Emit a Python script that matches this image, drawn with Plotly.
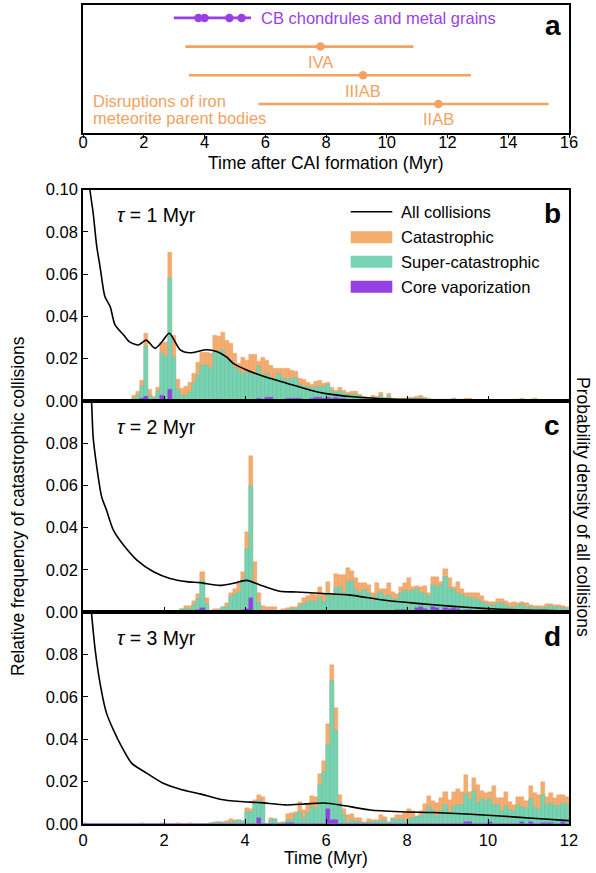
import plotly.graph_objects as go

# ---------------- data ----------------
N_BINS = 120
BIN_WIDTH = 0.1  # Myr

# Panel b (tau = 1 Myr)
B_CAT = [0,0,0,0,0,0,0,0,0,0,
         0,0,0.0024,0.0043,0.0095,0.032,0.0056,0.002,0.0066,0.0277,
         0.0275,0.070,0.031,0.010,0.0058,0.0068,0.0088,0.0132,0.018,0.023,
         0.023,0.0226,0.031,0.0306,0.0324,0.0284,0.027,0.0226,0.0178,0.0207,
         0.019,0.0218,0.0218,0.0186,0.0207,0.019,0.017,0.0155,0.0155,0.0155,
         0.0155,0.0144,0.0139,0.0106,0.010,0.0087,0.0076,0.0092,0.0095,0.0084,
         0.0088,0.0065,0.0049,0.0065,0.0049,0.004,0.0044,0.0043,0.0033,0.002,
         0.0013,0.0025,0.002,0.0038,0.0016,0.0035,0.0013,0.001,0.0013,0.001,
         0.0017,0.0016,0.002,0.0024,0.0016,0.0013,0.0008,0.0008,0.0006,0.0008,
         0.0006,0.0014,0.0008,0.0008,0.0013,0.0013,0.0005,0.0005,0.0004,0.0005,
         0.0004,0.0005,0.0004,0.0004,0.0005,0.0004,0.0005,0.0008,0.001,0.0005,
         0.0008,0.001,0.0005,0.0004,0.0005,0.0004,0.0005,0.0004,0.0003,0.0008]
B_SUP = [0,0,0,0,0,0,0,0,0,0,
         0,0,0.0013,0.0024,0.007,0.026,0.0028,0.001,0.0047,0.0226,
         0.021,0.0577,0.0205,0.0055,0.0024,0.0028,0.004,0.0084,0.012,0.0166,
         0.0166,0.0155,0.023,0.0234,0.024,0.020,0.019,0.016,0.0144,0.013,
         0.0134,0.0128,0.0128,0.0163,0.0118,0.0128,0.0112,0.0107,0.0128,0.0107,
         0.010,0.0107,0.0112,0.0076,0.0068,0.0068,0.006,0.0068,0.0063,0.0068,
         0.0076,0.0052,0.004,0.0044,0.0035,0.003,0.0033,0.003,0.0025,0.0015,
         0.001,0.0015,0.0012,0.0028,0.001,0.002,0.0008,0.0006,0.0008,0.0006,
         0.0012,0.001,0.0014,0.0014,0.001,0.0008,0.0005,0.0005,0.0005,0.0005,
         0.0005,0.001,0.0005,0.0005,0.0005,0.0005,0.0003,0.0003,0.0003,0.0003,
         0.0003,0.0003,0.0003,0.0003,0.0003,0.0003,0.0003,0.0005,0.0006,0.0003,
         0.0005,0.0009,0.0003,0.0003,0.0003,0.0003,0.0003,0.0003,0.0002,0.0005]
B_CORE = [0,0,0,0,0,0,0,0,0,0,
          0,0,0,0,0.001,0.002,0,0,0,0.0024,
          0,0.0055,0.0008,0,0,0,0,0,0,0,
          0,0,0,0.0005,0,0,0,0,0,0,
          0,0,0,0.001,0,0.0016,0.0016,0,0,0,
          0.0011,0.0011,0.001,0.0011,0,0,0.0014,0.0016,0.0016,0.0014,
          0.0016,0.0012,0.0016,0.001,0.001,0.0008,0.0008,0.0006,0.0008,0,
          0,0,0.0005,0,0.0005,0,0,0,0.0004,0,
          0,0,0,0,0,0,0,0,0,0,
          0,0,0,0,0,0,0,0,0,0,
          0,0,0,0,0,0,0,0,0,0,
          0,0,0,0,0,0,0,0,0,0]

# Panel c (tau = 2 Myr)
C_CAT = [0,0,0,0,0,0,0,0,0,0,
         0,0,0,0,0,0,0,0,0.0003,0.0003,
         0.0003,0,0.0003,0.0003,0.0016,0.0028,0.0028,0.0052,0.0085,0.019,
         0.0066,0.0006,0.0014,0.0014,0.0025,0.0044,0.0088,0.0107,0.0136,0.019,
         0.0379,0.074,0.0237,0.0088,0.0028,0.0024,0.0024,0.0024,0.0006,0.0014,
         0.0019,0.0025,0.0025,0.0044,0.0065,0.0077,0.0085,0.008,0.012,0.0085,
         0.0142,0.0085,0.018,0.0175,0.0175,0.021,0.0195,0.016,0.0136,0.0136,
         0.0128,0.0088,0.0136,0.011,0.0107,0.0136,0.0096,0.0084,0.012,0.0136,
         0.016,0.012,0.0123,0.012,0.0123,0.0088,0.0167,0.0164,0.0144,0.0202,
         0.016,0.012,0.0144,0.011,0.0092,0.0092,0.0088,0.0092,0.0076,0.0054,
         0.0049,0.0049,0.006,0.006,0.0054,0.0041,0.0049,0.0041,0.0049,0.0041,
         0.0033,0.0028,0.0028,0.0028,0.0038,0.0038,0.0033,0.0033,0.0028,0.0025]
C_SUP = [0,0,0,0,0,0,0,0,0,0,
         0,0,0,0,0,0,0,0,0,0,
         0,0,0,0,0.0013,0.0013,0.0014,0.0033,0.006,0.0148,
         0.004,0.0003,0.0006,0.0006,0.0022,0.0025,0.007,0.0084,0.0096,0.015,
         0.0297,0.0598,0.0136,0.0044,0.0006,0.0005,0.0005,0.0005,0.0003,0.0006,
         0.0009,0.0013,0.0016,0.0028,0.0038,0.0049,0.0054,0.0049,0.0065,0.0049,
         0.0088,0.0073,0.0112,0.012,0.0092,0.0144,0.0145,0.0104,0.0088,0.0104,
         0.0088,0.0054,0.008,0.0096,0.0073,0.008,0.006,0.006,0.009,0.0104,
         0.0096,0.0104,0.0107,0.009,0.009,0.0073,0.0128,0.012,0.0128,0.0167,
         0.0112,0.0104,0.009,0.0082,0.0073,0.0065,0.0065,0.0057,0.0049,0.0038,
         0.0033,0.0033,0.0041,0.0044,0.0032,0.0025,0.0025,0.0028,0.0038,0.0025,
         0.0022,0.0017,0.0017,0.002,0.0025,0.0028,0.0022,0.0022,0.002,0.0015]
C_CORE = [0,0,0,0,0,0,0,0,0,0,
          0,0,0,0,0,0,0,0,0,0,
          0,0,0,0,0,0,0,0,0.001,0.0019,
          0,0,0,0,0,0,0,0,0,0.0009,
          0.0013,0.0066,0.0005,0,0,0,0,0,0,0,
          0,0,0,0,0,0,0,0,0,0,
          0,0,0,0.0006,0,0,0,0,0,0,
          0,0,0,0,0,0,0,0.0009,0.001,0.0009,
          0,0,0.0018,0.0022,0.0015,0,0.0022,0.0018,0,0.0017,
          0.0015,0.0017,0.0012,0,0.0009,0.0008,0,0,0,0,
          0.0009,0,0,0,0,0,0,0,0.0009,0.0008,
          0,0,0,0.0009,0.0009,0,0,0.0006,0,0]

# Panel d (tau = 3 Myr)
D_CAT = [0.0006,0,0,0,0,0,0,0,0,0,
         0,0,0,0,0.0005,0,0,0,0,0.0005,
         0,0,0,0.0005,0,0,0.0005,0,0,0,
         0,0.0006,0.0008,0.0009,0.0008,0.0014,0.0022,0.0019,0.0019,0.0012,
         0.0074,0.0069,0.0113,0.0137,0.0129,0,0.0028,0.0024,0.0006,0.0009,
         0.0047,0.005,0.0055,0.0104,0.0066,0.0088,0.0132,0.0129,0.0236,0.0298,
         0.0471,0.0752,0.0547,0.0137,0.0069,0.0043,0.0047,0.0027,0.003,0.0011,
         0.0025,0.0019,0.0019,0.0041,0.0032,0.0011,0.003,0.0041,0.0041,0.005,
         0.0069,0.0063,0.0038,0.006,0.0095,0.0132,0.011,0.0098,0.0123,0.0151,
         0.0113,0.0151,0.0164,0.0151,0.0232,0.0153,0.0219,0.0184,0.0156,0.0148,
         0.0151,0.018,0.0121,0.0121,0.0151,0.0104,0.009,0.0128,0.0128,0.0109,
         0.018,0.0148,0.0135,0.0199,0.0126,0.0148,0.0121,0.0135,0.0135,0.0128]
D_SUP = [0,0,0,0,0,0,0,0,0,0,
         0,0,0,0,0,0,0,0,0,0,
         0,0,0,0,0,0,0,0,0,0,
         0,0.0005,0.0005,0.0009,0.0003,0.0005,0.0011,0.0011,0.0019,0.0012,
         0.0058,0.0058,0.0095,0.0113,0.0093,0,0.0019,0.0024,0.0003,0.0005,
         0.0019,0.0019,0.0042,0.0058,0.0024,0.005,0.0082,0.0074,0.0184,0.0247,
         0.0374,0.0673,0.044,0.0098,0.0042,0.0006,0.0019,0.0008,0.0011,0.0006,
         0.0011,0.0011,0.0009,0.0016,0.0019,0.0006,0.0022,0.0019,0.0022,0.0016,
         0.0022,0.0027,0.0032,0.0038,0.0058,0.0079,0.0066,0.0032,0.006,0.0088,
         0.0054,0.0079,0.0088,0.009,0.0142,0.012,0.0154,0.0098,0.0117,0.0109,
         0.0117,0.009,0.0088,0.0061,0.0085,0.0066,0.0061,0.0088,0.0082,0.0074,
         0.0117,0.0079,0.0066,0.0137,0.0088,0.0098,0.0085,0.0085,0.0101,0.0088]
D_CORE = [0,0,0,0,0,0,0,0,0,0,
          0,0,0,0,0,0,0,0,0,0,
          0,0,0,0,0,0,0,0,0,0,
          0,0,0,0,0,0,0,0,0,0,
          0,0,0,0.003,0,0,0,0,0,0,
          0.0003,0.0003,0,0,0,0,0,0,0,0,
          0.0071,0.0019,0.0019,0,0,0,0,0,0,0,
          0,0,0,0,0,0,0,0,0,0,
          0,0,0,0,0,0,0,0,0,0,
          0,0,0,0,0.0011,0.0009,0,0,0,0,
          0.0008,0,0,0,0,0,0,0,0.0011,0,
          0.0011,0,0,0.0006,0.0006,0.0006,0,0,0.0011,0]

# All-collision probability density (drawn in the same units as the histograms)
B_LINE_T = [0.0, 0.1, 0.17, 0.25, 0.34, 0.42, 0.54, 0.67, 0.79, 1.0, 1.16, 1.37, 1.56, 1.78, 1.95,
            2.13, 2.4, 2.64, 3.05, 3.3, 3.55, 3.71, 4.04, 4.53, 5.03, 5.6, 6.0, 6.67, 7.6, 8.5,
            9.5, 10.5, 12.0]
B_LINE_V = [0.14, 0.115, 0.1, 0.089, 0.073, 0.0637, 0.0494, 0.0447, 0.036, 0.0313, 0.0278, 0.0265,
            0.0288, 0.0249, 0.028, 0.032, 0.0242, 0.0228, 0.0242, 0.0234, 0.0207, 0.0178, 0.0147,
            0.0112, 0.0084, 0.0052, 0.0035, 0.002, 0.0009, 0.0006, 0.0004, 0.0003, 0.0002]
C_LINE_T = [0.0, 0.1, 0.21, 0.25, 0.34, 0.46, 0.58, 0.75, 1.0, 1.33, 1.74, 2.15, 2.56, 2.89, 3.38,
            3.71, 4.04, 4.37, 4.86, 5.28, 5.93, 6.59, 7.41, 8.24, 9.06, 9.88, 10.7, 12.0]
C_LINE_V = [0.16, 0.125, 0.1, 0.083, 0.0688, 0.0546, 0.0483, 0.0388, 0.0317, 0.0246, 0.0191, 0.0159,
            0.0144, 0.0139, 0.0126, 0.0136, 0.015, 0.0128, 0.0098, 0.0095, 0.0088, 0.008, 0.0057,
            0.0041, 0.0028, 0.0017, 0.001, 0.0005]
D_LINE_T = [0.0, 0.1, 0.21, 0.3, 0.42, 0.58, 0.75, 0.95, 1.2, 1.57, 1.98, 2.4, 2.89, 3.38, 3.88,
            4.37, 5.0, 5.5, 5.95, 6.35, 6.59, 7.09, 7.83, 8.65, 9.47, 10.3, 11.1, 12.0]
D_LINE_V = [0.16, 0.125, 0.0996, 0.0823, 0.0665, 0.0523, 0.0444, 0.0366, 0.0287, 0.024, 0.0192,
            0.0164, 0.0142, 0.0117, 0.0106, 0.0101, 0.009, 0.0095, 0.0099, 0.009, 0.0082, 0.0066,
            0.0058, 0.0054, 0.0047, 0.0038, 0.0027, 0.0016]

# Panel a
CB_LABEL = "CB chondrules and metal grains"
CB_RANGE = [2.99, 5.53]
CB_POINTS = [3.8, 4.0, 4.82, 5.22]
CB_ROW = 4
IRON_GROUPS = ["IVA", "IIIAB", "IIAB"]
IRON_MEAN = [7.82, 9.22, 11.7]
IRON_LO = [3.37, 3.49, 5.78]
IRON_HI = [10.88, 12.77, 15.33]
IRON_ROWS = [3, 2, 1]

TAU_LABELS = ["<i>τ</i> = 1 Myr", "<i>τ</i> = 2 Myr", "<i>τ</i> = 3 Myr"]
PANEL_LETTERS = ["a", "b", "c", "d"]
LEGEND_LABELS = ["All collisions", "Catastrophic", "Super-catastrophic", "Core vaporization"]

# ---------------- style ----------------
FONT = "Liberation Sans, Arial, Helvetica, sans-serif"
ORANGE = "#F5AC6F"
ORANGE_EDGE = "#E89C5E"
GREEN = "#76D3B4"
GREEN_EDGE = "#62C2A2"
PURPLE = "#9440E4"
A_ORANGE = "#F2A262"
A_PURPLE = "#9A3FE6"
W, H = 596, 873
ML, MR = 83, 27
PW = W - ML - MR


def py(px):  # figure pixel row -> paper y
    return 1 - px / H


def pxx(px):  # figure pixel column -> paper x
    return (px - ML) / PW


centers = [round(BIN_WIDTH * (k + 0.5), 4) for k in range(N_BINS)]

fig = go.Figure()

# Panel a
fig.add_trace(go.Scatter(x=CB_RANGE, y=[CB_ROW, CB_ROW], mode="lines",
                         line=dict(color=A_PURPLE, width=2.6), xaxis="x", yaxis="y",
                         showlegend=False, hoverinfo="skip"))
fig.add_trace(go.Scatter(x=CB_POINTS, y=[CB_ROW] * len(CB_POINTS), mode="markers",
                         marker=dict(color=A_PURPLE, size=8.5), xaxis="x", yaxis="y",
                         showlegend=False))
fig.add_trace(go.Scatter(
    x=IRON_MEAN, y=IRON_ROWS, mode="markers",
    marker=dict(color=A_ORANGE, size=8.5),
    error_x=dict(type="data", symmetric=False,
                 array=[h - m for h, m in zip(IRON_HI, IRON_MEAN)],
                 arrayminus=[m - l for m, l in zip(IRON_MEAN, IRON_LO)],
                 width=0, thickness=2.6, color=A_ORANGE),
    xaxis="x", yaxis="y", showlegend=False))

# Panels b-d
panels = [(B_CAT, B_SUP, B_CORE, B_LINE_T, B_LINE_V),
          (C_CAT, C_SUP, C_CORE, C_LINE_T, C_LINE_V),
          (D_CAT, D_SUP, D_CORE, D_LINE_T, D_LINE_V)]
for i, (cat, sup, core, lt, lv) in enumerate(panels):
    ax = str(i + 2)
    for vals, col, edge in ((cat, ORANGE, ORANGE_EDGE), (sup, GREEN, GREEN_EDGE), (core, PURPLE, PURPLE)):
        fig.add_trace(go.Bar(x=centers, y=vals, width=BIN_WIDTH, marker=dict(color=col, line=dict(color=edge, width=0.4)),
                             xaxis="x" + ax, yaxis="y" + ax, showlegend=False))
    fig.add_trace(go.Scatter(x=lt, y=lv, mode="lines",
                             line=dict(color="black", width=1.6, shape="spline", smoothing=0.7),
                             xaxis="x" + ax, yaxis="y" + ax, showlegend=False))

axis_common = dict(showline=True, linewidth=1.5, linecolor="black", mirror=True,
                   showgrid=False, zeroline=False, tickcolor="black", tickwidth=1.2,
                   automargin=False,
                   tickfont=dict(size=16.5, family=FONT, color="black"))

# panel pixel extents (top, bottom)
A_TB = (4.7, 132.7)
P_TB = [(189.5, 401), (401, 612), (612, 824)]

layout = dict(
    width=W, height=H, margin=dict(l=ML, r=MR, t=0, b=0, pad=0, autoexpand=False),
    paper_bgcolor="white", plot_bgcolor="white",
    font=dict(family=FONT, size=16.5, color="black"),
    barmode="overlay", bargap=0, showlegend=False,
    xaxis=dict(domain=[0, 1], range=[0, 16], tickvals=list(range(0, 17, 2)), ticks="outside",
               ticklen=4, ticklabelstandoff=-10, anchor="y", **axis_common),
    yaxis=dict(domain=[py(A_TB[1]), py(A_TB[0])], range=[0, 4.46], showticklabels=False,
               ticks="", anchor="x", **axis_common),
)
for i, (top, bot) in enumerate(P_TB):
    ax = str(i + 2)
    ytv = [0, 0.02, 0.04, 0.06, 0.08, 0.10] if i == 0 else [0, 0.02, 0.04, 0.06, 0.08]
    layout["xaxis" + ax] = dict(domain=[0, 1], range=[0, 12], tickvals=list(range(0, 13, 2)),
                                ticks="inside", ticklen=5, anchor="y" + ax,
                                showticklabels=(i == 2), **axis_common)
    layout["yaxis" + ax] = dict(domain=[py(bot), py(top)], range=[0, 0.1], tickvals=ytv,
                                tickformat=".2f", ticks="inside", ticklen=5, anchor="x" + ax,
                                **axis_common)
fig.update_layout(**layout)

ann = []
# panel a texts
ann.append(dict(x=5.78, y=CB_ROW, xref="x", yref="y", text=CB_LABEL, showarrow=False,
                xanchor="left", yanchor="middle", font=dict(size=16.5, color=A_PURPLE)))
for g, m, r in zip(IRON_GROUPS, IRON_MEAN, IRON_ROWS):
    ann.append(dict(x=m, y=r, xref="x", yref="y", text=g, showarrow=False, yshift=-15.5,
                    xanchor="center", yanchor="middle", font=dict(size=16.5, color=A_ORANGE)))
ann.append(dict(x=0.25, y=1.115, xref="x", yref="y", text="Disruptions of iron", showarrow=False,
                xanchor="left", yanchor="middle", font=dict(size=16.5, color=A_ORANGE)))
ann.append(dict(x=0.25, y=0.5, xref="x", yref="y", text="meteorite parent bodies", showarrow=False,
                xanchor="left", yanchor="middle", font=dict(size=16.5, color=A_ORANGE)))
# axis titles
ann.append(dict(x=0.5, y=py(163), xref="paper", yref="paper", text="Time after CAI formation (Myr)",
                showarrow=False, xanchor="center", yanchor="middle", font=dict(size=17.5)))
ann.append(dict(x=0.5, y=py(858), xref="paper", yref="paper", text="Time (Myr)",
                showarrow=False, xanchor="center", yanchor="middle", font=dict(size=17.5)))
ann.append(dict(x=pxx(18), y=py(506), xref="paper", yref="paper",
                text="Relative frequency of catastrophic collisions", textangle=-90,
                showarrow=False, xanchor="center", yanchor="middle", font=dict(size=17.5)))
ann.append(dict(x=pxx(583), y=py(507), xref="paper", yref="paper",
                text="Probability density of all collisions", textangle=90,
                showarrow=False, xanchor="center", yanchor="middle", font=dict(size=17.5)))
# panel letters
for letter, (lx, ly) in zip(PANEL_LETTERS, [(553, 25), (552, 213), (552, 425), (552, 636)]):
    ann.append(dict(x=pxx(lx), y=py(ly), xref="paper", yref="paper", text="<b>%s</b>" % letter,
                    showarrow=False, xanchor="center", yanchor="middle", font=dict(size=28)))
# tau labels
for t, ty in zip(TAU_LABELS, [215, 427, 638]):
    ann.append(dict(x=pxx(115), y=py(ty), xref="paper", yref="paper", text=t, showarrow=False,
                    xanchor="left", yanchor="middle", font=dict(size=19.5)))

# custom legend in panel b
shapes = []
leg_rows = [211.7, 237.3, 261.7, 286.7]
sx0, sx1 = pxx(350.7), pxx(392.3)
shapes.append(dict(type="line", xref="paper", yref="paper", x0=sx0, x1=sx1,
                   y0=py(leg_rows[0]), y1=py(leg_rows[0]), line=dict(color="black", width=1.6)))
for col, ry in zip([ORANGE, GREEN, PURPLE], leg_rows[1:]):
    shapes.append(dict(type="rect", xref="paper", yref="paper", x0=sx0, x1=sx1,
                       y0=py(ry + 6), y1=py(ry - 6), fillcolor=col, line=dict(width=0)))
for lab, ry in zip(LEGEND_LABELS, leg_rows):
    ann.append(dict(x=pxx(399), y=py(ry), xref="paper", yref="paper", text=lab, showarrow=False,
                    xanchor="left", yanchor="middle", font=dict(size=16.5)))

fig.update_layout(annotations=ann, shapes=shapes)
fig.write_html("out.html", config={"displayModeBar": False},
               post_script="document.body.style.margin='0';document.body.style.padding='0';"
                           "document.documentElement.style.overflow='hidden';")
